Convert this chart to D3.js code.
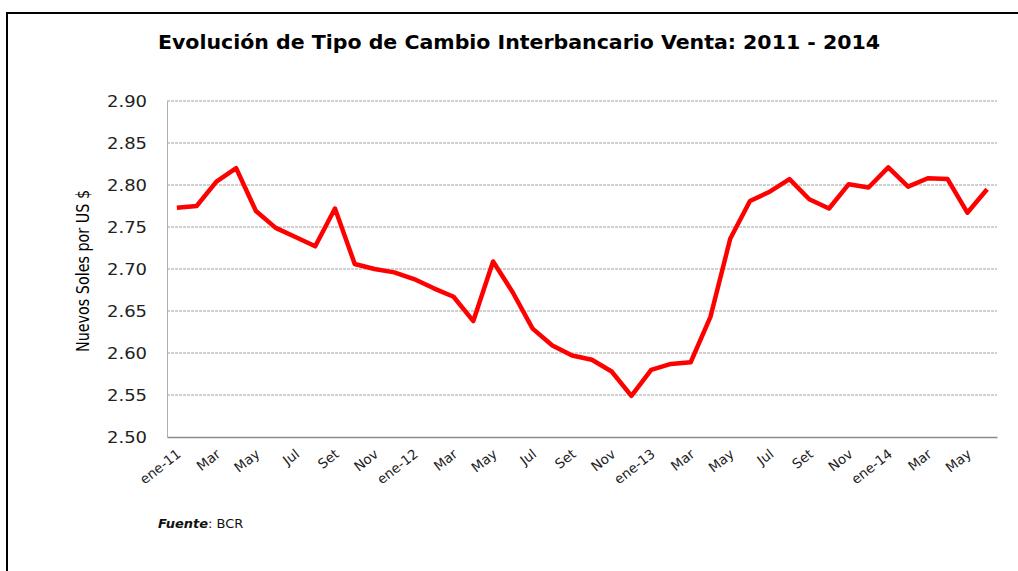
<!DOCTYPE html>
<html>
<head>
<meta charset="utf-8">
<script src="https://cdn.jsdelivr.net/npm/d3@7"></script>
<style>
  body { margin: 0; background: #fff; }
  svg { display: block; }
</style>
</head>
<body>
<svg id="chart"></svg>
<script>
const months = ["ene", "Feb", "Mar", "Abr", "May", "Jun", "Jul", "Ago", "Set", "Oct", "Nov", "Dic"];
const years = ["11", "12", "13", "14"];

// monthly periods, ene-11 .. Jun-14
const periods = [];
years.forEach((y) => months.forEach((m, i) => {
  if (y !== "14" || i < 6) periods.push(`${m}-${y}`);
}));

const rates = [
  2.773, 2.775, 2.804, 2.820, 2.769, 2.749, 2.738, 2.727, 2.772, 2.706, 2.700, 2.696,
  2.688, 2.677, 2.667, 2.638, 2.709, 2.672, 2.629, 2.609, 2.597, 2.592, 2.578, 2.549,
  2.580, 2.587, 2.589, 2.643, 2.736, 2.781, 2.792, 2.807, 2.783, 2.772, 2.801, 2.797,
  2.821, 2.798, 2.808, 2.807, 2.767, 2.795
];

const yTicks = [2.50, 2.55, 2.60, 2.65, 2.70, 2.75, 2.80, 2.85, 2.90];

const width = 1018, height = 571;
const margin = { top: 101, right: 21, bottom: 134, left: 167 };

const svg = d3.select("#chart").attr("width", width).attr("height", height);

// outer frame
svg.append("rect")
  .attr("x", 7).attr("y", 13)
  .attr("width", 1020).attr("height", 600)
  .attr("fill", "none")
  .attr("stroke", "#000")
  .attr("stroke-width", 2);

svg.append("text")
  .attr("x", 519).attr("y", 49)
  .attr("text-anchor", "middle")
  .attr("font-family", "'DejaVu Sans Condensed', 'Liberation Sans Narrow', 'DejaVu Sans', sans-serif")
  .attr("font-weight", "bold")
  .attr("font-size", 20)
  .attr("textLength", 722)
  .attr("lengthAdjust", "spacingAndGlyphs")
  .text("Evolución de Tipo de Cambio Interbancario Venta: 2011 - 2014");

const x = d3.scaleBand()
  .domain(periods)
  .range([margin.left, width - margin.right]);

const y = d3.scaleLinear()
  .domain([2.50, 2.90])
  .range([height - margin.bottom, margin.top]);

// gridlines
svg.append("g")
  .selectAll("line")
  .data(yTicks.slice(1))
  .join("line")
  .attr("x1", margin.left).attr("x2", width - margin.right)
  .attr("y1", (d) => y(d)).attr("y2", (d) => y(d))
  .attr("stroke", "#a0a0a0")
  .attr("stroke-dasharray", "3,1")
  .attr("stroke-width", 1);

// y axis
const yAxis = svg.append("g")
  .attr("transform", `translate(${margin.left},0)`)
  .call(d3.axisLeft(y).tickValues(yTicks).tickFormat(d3.format(".2f")).tickSize(0).tickPadding(20));
yAxis.select(".domain").attr("stroke", "#b0b0b0");
yAxis.selectAll("text")
  .attr("font-family", "'DejaVu Sans', Verdana, sans-serif")
  .attr("font-size", 15)
  .attr("fill", "#222")
  .attr("transform", "scale(1.2,1)")
  .attr("x", -20 / 1.2)
  .attr("dy", "0.35em");

// x axis
const xAxis = svg.append("g")
  .attr("transform", `translate(0,${height - margin.bottom})`)
  .call(d3.axisBottom(x)
    .tickValues(periods.filter((d, i) => i % 2 === 0))
    .tickFormat((d) => (d.startsWith("ene") ? d : d.split("-")[0]))
    .tickSize(0));
xAxis.select(".domain").attr("stroke", "#8c8c8c").attr("stroke-width", 1.5);
xAxis.selectAll("text")
  .attr("font-family", "'DejaVu Sans', Verdana, sans-serif")
  .attr("font-size", 13.5)
  .attr("fill", "#222")
  .attr("text-anchor", "end")
  .attr("y", 0)
  .attr("dy", "0.35em")
  .attr("transform", "translate(2,15) rotate(-38)");

svg.append("text")
  .attr("transform", "translate(89,271) rotate(-90)")
  .attr("text-anchor", "middle")
  .attr("font-family", "'DejaVu Sans Condensed', 'Liberation Sans Narrow', 'DejaVu Sans', sans-serif")
  .attr("font-size", 18)
  .attr("textLength", 162)
  .attr("lengthAdjust", "spacingAndGlyphs")
  .text("Nuevos Soles por US $");

// series
const line = d3.line()
  .x((d, i) => x(periods[i]) + x.bandwidth() / 2)
  .y((d) => y(d));

svg.append("path")
  .datum(rates)
  .attr("d", line)
  .attr("fill", "none")
  .attr("stroke", "#ff0000")
  .attr("stroke-width", 4.5)
  .attr("stroke-linejoin", "round");

const src = svg.append("text")
  .attr("x", 158).attr("y", 528)
  .attr("font-family", "'DejaVu Sans', Verdana, sans-serif")
  .attr("font-size", 13)
  .attr("fill", "#111");
src.append("tspan").attr("font-weight", "bold").attr("font-style", "italic").text("Fuente");
src.append("tspan").text(": BCR");
</script>
</body>
</html>
